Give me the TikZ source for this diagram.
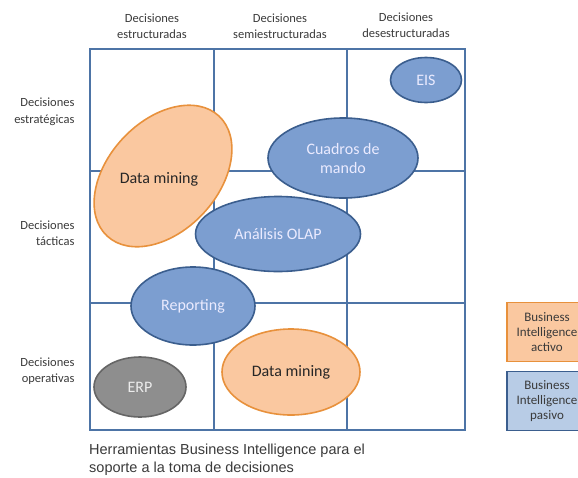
\documentclass[tikz,border=0pt]{standalone}
\usepackage{fontspec}
\setmainfont{Carlito}
\newfontfamily\capfont{Liberation Sans}
\usetikzlibrary{shapes.geometric}
\definecolor{gridblue}{HTML}{4D74A6}
\definecolor{bluefill}{HTML}{7C9ED0}
\definecolor{blueline}{HTML}{3B5E8E}
\definecolor{orangefill}{HTML}{FAC8A0}
\definecolor{orangeline}{HTML}{E8913C}
\definecolor{grayfill}{HTML}{8E8E8E}
\definecolor{grayline}{HTML}{666666}
\definecolor{legblue}{HTML}{B8CCE6}
\definecolor{labeltext}{HTML}{3A3A3A}

\begin{document}
\begin{tikzpicture}[x=1pt,y=-1pt,
	bubble/.style={ellipse,inner sep=0pt,line width=1.6pt,align=center,font=\fontsize{16}{19}\selectfont},
	bluebubble/.style={bubble,draw=blueline,fill=bluefill,text=white!92!blue},
	orangebubble/.style={bubble,draw=orangeline,fill=orangefill,text=black!85},
	graybubble/.style={bubble,draw=grayline,fill=grayfill,text=white!85!gray},
	header/.style={align=center,text=labeltext,font=\fontsize{12.5}{15.5}\selectfont},
	rowlabel/.style={align=right,anchor=east,text=labeltext,font=\fontsize{12.5}{16.5}\selectfont},
	legendbox/.style={rectangle,line width=1.2pt,minimum width=80pt,minimum height=59pt,align=center,text=labeltext,font=\fontsize{13}{15}\selectfont}]
	\useasboundingbox (0,0) rectangle (578,477);
	% grid
	\draw[gridblue,line width=1.5pt] (90,49) rectangle (465,430);
	\draw[gridblue,line width=1.5pt] (214,49) -- (214,430);
	\draw[gridblue,line width=1.5pt] (347,49) -- (347,430);
	\draw[gridblue,line width=1.5pt] (90,171) -- (465,171);
	\draw[gridblue,line width=1.5pt] (90,303) -- (465,303);
	% headers
	\node[header] (estruct) at (152,26) {Decisiones\\estructuradas};
	\node[header] (semi) at (280,26) {Decisiones\\semiestructuradas};
	\node[header] (desest) at (406,25) {Decisiones\\desestructuradas};
	\node[rowlabel] (estrat) at (78,112) {Decisiones\\estratégicas};
	\node[rowlabel] (tact) at (78,233) {Decisiones\\tácticas};
	\node[rowlabel] (oper) at (78,371) {Decisiones\\operativas};
	% herramientas
	\node[bluebubble,minimum width=71pt,minimum height=45pt] (eis) at (426,80) {EIS};
	\node[bluebubble,minimum width=150pt,minimum height=80pt] (cuadros) at (343,158) {Cuadros de\\mando};
	\node[orangebubble,minimum width=164pt,minimum height=110pt,rotate=47] (mining1) at (163,176) {};
	\node[text=black!85,font=\fontsize{16}{19}\selectfont] (mining1text) at (159,179) {Data mining};
	\node[bluebubble,minimum width=165pt,minimum height=75pt] (olap) at (278,234) {Análisis OLAP};
	\node[bluebubble,minimum width=124pt,minimum height=78pt] (reporting) at (193,306) {Reporting};
	\node[graybubble,minimum width=92pt,minimum height=60pt] (erp) at (140,387) {ERP};
	\node[orangebubble,minimum width=138pt,minimum height=86pt] (mining2) at (291,372) {Data mining};
	% leyenda
	\node[legendbox,draw=orangeline,fill=orangefill] (activo) at (547,332) {Business\\Intelligence\\activo};
	\node[legendbox,draw=blueline,fill=legblue] (pasivo) at (547,401) {Business\\Intelligence\\pasivo};
	% pie
	\node[anchor=north west,align=left,inner sep=0pt,text=labeltext,font=\capfont\fontsize{14.5}{18}\selectfont] (pie) at (89,444) {Herramientas Business Intelligence para el\\soporte a la toma de decisiones};
\end{tikzpicture}
\end{document}
